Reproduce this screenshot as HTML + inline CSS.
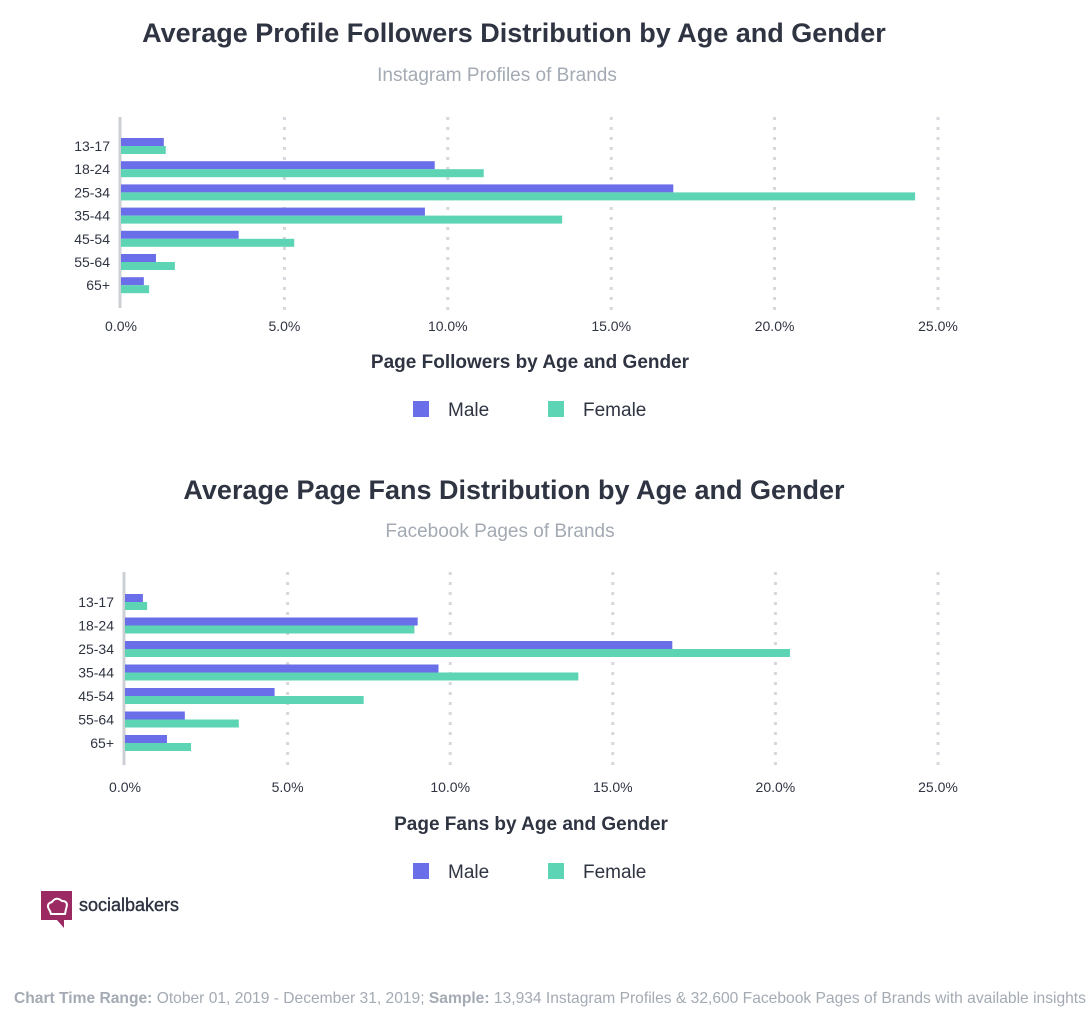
<!DOCTYPE html>
<html><head><meta charset="utf-8">
<style>
body{margin:0;background:#fff;width:1090px;height:1014px;overflow:hidden;font-family:"Liberation Sans",sans-serif}
svg{position:absolute;left:0;top:0}
</style></head>
<body>
<svg id="s" width="1090" height="1014">
<text x="514" y="42" text-anchor="middle" font-size="27" font-weight="bold" fill="#2f3442">Average Profile Followers Distribution by Age and Gender</text>
<text x="497" y="81" text-anchor="middle" font-size="19" fill="#a3aab3">Instagram Profiles of Brands</text>
<text x="530" y="368" text-anchor="middle" font-size="19" font-weight="bold" fill="#2f3442">Page Followers by Age and Gender</text>
<g>
<rect x="413" y="401" width="16" height="16" fill="#6a6ee8"/>
<text x="448" y="416" font-size="19" fill="#2f3442">Male</text>
<rect x="548" y="401" width="16" height="16" fill="#5dd4b4"/>
<text x="583" y="416" font-size="19" fill="#2f3442">Female</text>
</g>
<text x="514" y="499" text-anchor="middle" font-size="27" font-weight="bold" fill="#2f3442">Average Page Fans Distribution by Age and Gender</text>
<text x="500" y="537" text-anchor="middle" font-size="19" fill="#a3aab3">Facebook Pages of Brands</text>
<text x="531" y="830" text-anchor="middle" font-size="19" font-weight="bold" fill="#2f3442">Page Fans by Age and Gender</text>
<g>
<rect x="413" y="863" width="16" height="16" fill="#6a6ee8"/>
<text x="448" y="878" font-size="19" fill="#2f3442">Male</text>
<rect x="548" y="863" width="16" height="16" fill="#5dd4b4"/>
<text x="583" y="878" font-size="19" fill="#2f3442">Female</text>
</g>
<g>
<rect x="41" y="891" width="31" height="29" fill="#9b2a63"/>
<polygon points="57,920 64,920 64,928" fill="#9b2a63"/>
<path d="M50,911 q-5,-7 2,-9 q4,-6 10,-1 q7,0 4,8 l-1,5 h-14 z" fill="none" stroke="#fff" stroke-width="2"/>
<text x="79" y="911" font-size="18" fill="#2f3442" stroke="#2f3442" stroke-width="0.4">socialbakers</text>
</g>
<text x="14" y="1003" font-size="15.6" fill="#a3aab3"><tspan font-weight="bold">Chart Time Range:</tspan> Otober 01, 2019 - December 31, 2019; <tspan font-weight="bold">Sample:</tspan> 13,934 Instagram Profiles &amp; 32,600 Facebook Pages of Brands with available insights</text>
</svg>
<script>
const categories=["13-17","18-24","25-34","35-44","45-54","55-64","65+"];
const ticks=[0,5,10,15,20,25];
const tickLabels=["0.0%","5.0%","10.0%","15.0%","20.0%","25.0%"];
const igMale=[1.31,9.6,16.9,9.3,3.6,1.07,0.7];
const igFemale=[1.37,11.1,24.3,13.5,5.3,1.65,0.86];
const fbMale=[0.55,9.0,16.83,9.64,4.6,1.84,1.29];
const fbFemale=[0.68,8.9,20.45,13.94,7.34,3.5,2.03];
const NS="http://www.w3.org/2000/svg";
const svg=document.getElementById('s');
function mk(t,a,p){const e=document.createElementNS(NS,t);for(const k in a)e.setAttribute(k,a[k]);(p||svg).appendChild(e);return e;}
function chart(id,x0,x25,yTop,yBot,row0,step,tickY,male,female){
  const g=mk('g',{});
  
  
  const xs=v=>x0+(x25-x0)*v/25;
  ticks.forEach((t,i)=>{
    if(i>0){const l=mk('line',{x1:xs(t),x2:xs(t),y1:yTop,y2:yBot+7,stroke:'#d4d7dc','stroke-width':3,'stroke-dasharray':'3 7'},g);
    
    }
    const tx=mk('text',{x:xs(t),y:tickY,'text-anchor':'middle','font-size':14,fill:'#2f3442'},g);
    tx.textContent=tickLabels[i];
    
    
  });
  const ax=mk('line',{x1:x0-1,x2:x0-1,y1:yTop,y2:yBot,stroke:'#ccd0d5','stroke-width':3},g);
  
  
  categories.forEach((c,i)=>{
    const cy=row0+step*i;
    const lb=mk('text',{x:x0-11,y:cy+5,'text-anchor':'end','font-size':14,fill:'#2f3442'},g);
    lb.textContent=c;
    
    
    const bm=mk('rect',{x:x0,y:cy-8,width:xs(male[i])-x0,height:8,fill:'#6a6ee8'},g);
    
    
    const bf=mk('rect',{x:x0,y:cy,width:xs(female[i])-x0,height:8,fill:'#5dd4b4'},g);
    
    
  });
}
chart('instagram-chart',121,938,117,308,146,23.2,331,igMale,igFemale);
chart('facebook-chart',125,938,572,765,602,23.5,792,fbMale,fbFemale);
</script>
</body></html>
